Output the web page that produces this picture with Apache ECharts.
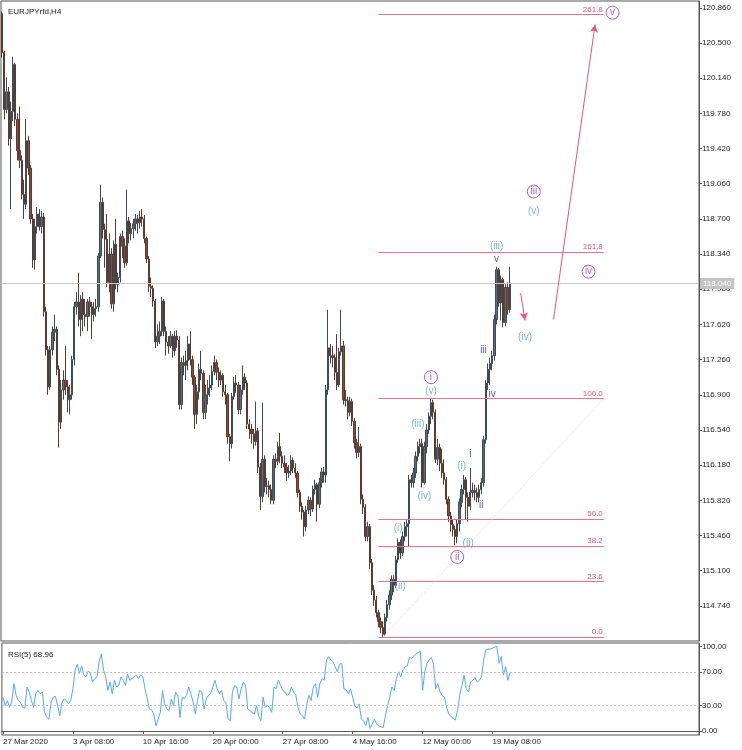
<!DOCTYPE html>
<html><head><meta charset="utf-8">
<script src="https://cdn.jsdelivr.net/npm/echarts@6/dist/echarts.min.js"></script>
<style>html,body{margin:0;padding:0;background:#fff}#c{width:742px;height:750px}</style>
</head><body><div id="c"></div>
<script>
const symbolName = 'EURJPYrfd,H4';
const opens = [
120.80,120.40,119.82,120.00,119.52,119.80,120.28,119.72,119.40,119.30,
118.95,118.85,119.50,119.22,118.70,118.28,118.62,118.75,118.62,118.72,
117.75,117.36,116.98,117.36,117.54,117.57,117.16,116.62,116.95,117.05,
116.98,116.85,116.90,117.26,117.80,117.85,117.67,117.88,117.72,117.70,
117.85,117.80,117.72,117.78,117.80,118.32,118.87,118.59,118.49,118.05,
118.34,117.83,118.44,118.03,118.10,118.52,118.42,118.25,118.68,118.55,
118.60,118.65,118.70,118.66,118.72,118.70,118.50,118.29,118.01,117.99,
117.86,117.44,117.50,117.55,117.86,117.55,117.44,117.40,117.50,117.35,
117.50,117.46,116.80,117.23,117.20,117.25,117.42,117.26,117.08,116.70,
116.93,117.16,117.12,116.72,116.90,116.97,117.00,117.14,117.23,117.13,
117.05,117.10,116.93,116.90,116.47,116.40,116.88,117.02,117.00,116.75,
116.95,117.08,117.02,116.60,116.55,116.50,116.42,116.53,116.16,115.86,
116.24,115.96,115.97,115.93,115.82,116.24,116.22,116.37,116.27,116.20,
116.16,116.10,116.12,116.23,116.15,116.10,115.90,115.76,115.70,115.55,
115.72,115.82,115.73,115.93,115.98,115.78,116.00,116.11,116.08,116.95,
117.38,117.30,117.28,117.13,117.00,117.34,117.40,116.85,116.84,116.72,
116.83,116.63,116.41,116.31,116.37,115.83,115.75,115.45,115.55,115.18,
114.90,114.80,114.67,114.58,114.52,114.45,114.62,114.75,114.85,115.01,
114.95,115.21,115.39,115.28,115.45,115.55,115.58,116.03,116.00,116.10,
116.27,116.37,116.40,116.00,116.37,116.54,116.68,116.82,116.72,116.24,
116.36,116.20,116.10,116.03,115.83,115.66,115.57,115.52,115.45,115.58,
115.80,115.93,116.03,115.85,115.76,115.90,115.92,115.90,115.85,115.93,
116.00,116.44,117.02,117.16,117.22,117.30,117.67,118.18,117.84,118.08,
117.64,118.00,117.77];
const closes = [
120.40,119.82,120.00,119.52,119.80,120.28,119.72,119.40,119.30,118.95,
118.85,119.50,119.22,118.70,118.28,118.62,118.75,118.62,118.72,117.75,
117.36,116.98,117.36,117.54,117.57,117.16,116.62,116.95,117.05,116.98,
116.85,116.90,117.26,117.80,117.85,117.67,117.88,117.72,117.70,117.85,
117.80,117.72,117.78,117.80,118.32,118.87,118.59,118.49,118.05,118.34,
117.83,118.44,118.03,118.10,118.52,118.42,118.25,118.68,118.55,118.60,
118.65,118.70,118.66,118.72,118.70,118.50,118.29,118.01,117.99,117.86,
117.44,117.50,117.55,117.86,117.55,117.44,117.40,117.50,117.35,117.50,
117.46,116.80,117.23,117.20,117.25,117.42,117.26,117.08,116.70,116.93,
117.16,117.12,116.72,116.90,116.97,117.00,117.14,117.23,117.13,117.05,
117.10,116.93,116.90,116.47,116.40,116.88,117.02,117.00,116.75,116.95,
117.08,117.02,116.60,116.55,116.50,116.42,116.53,116.16,115.86,116.24,
115.96,115.97,115.93,115.82,116.24,116.22,116.37,116.27,116.20,116.16,
116.10,116.12,116.23,116.15,116.10,115.90,115.76,115.70,115.55,115.72,
115.82,115.73,115.93,115.98,115.78,116.00,116.11,116.08,116.95,117.38,
117.30,117.28,117.13,117.00,117.34,117.40,116.85,116.84,116.72,116.83,
116.63,116.41,116.31,116.37,115.83,115.75,115.45,115.55,115.18,114.90,
114.80,114.67,114.58,114.52,114.45,114.62,114.75,114.85,115.01,114.95,
115.21,115.39,115.28,115.45,115.55,115.58,116.03,116.00,116.10,116.27,
116.37,116.40,116.00,116.37,116.54,116.68,116.82,116.72,116.24,116.36,
116.20,116.10,116.03,115.83,115.66,115.57,115.52,115.45,115.58,115.80,
115.93,116.03,115.85,115.76,115.90,115.92,115.90,115.85,115.93,116.00,
116.44,117.02,117.16,117.22,117.30,117.67,118.18,117.84,118.08,117.64,
118.00,117.77,118.04];
const lows = [
120.35,119.72,119.78,119.45,118.80,119.70,119.65,119.30,119.22,118.90,
118.70,118.80,119.15,118.65,118.20,118.18,118.55,118.58,118.55,117.70,
117.30,116.90,116.95,117.30,117.45,117.10,116.36,116.55,116.85,116.90,
116.72,116.70,116.85,117.20,117.72,117.60,117.50,117.55,117.60,117.55,
117.70,117.47,117.65,117.70,117.75,118.30,118.50,118.20,118.00,117.95,
117.78,117.75,117.98,117.95,118.05,118.30,118.20,118.22,118.45,118.48,
118.50,118.58,118.55,118.60,118.62,118.45,118.25,117.95,117.90,117.80,
117.38,117.40,117.42,117.50,117.50,117.30,117.32,117.38,117.28,117.30,
117.38,116.75,116.75,117.10,117.05,117.15,117.20,117.00,116.55,116.60,
116.85,117.05,116.65,116.65,116.80,116.88,116.95,117.10,117.05,116.98,
117.00,116.88,116.80,116.40,116.22,116.35,116.85,116.92,116.70,116.70,
116.90,116.95,116.55,116.45,116.40,116.35,116.38,116.10,115.72,115.80,
115.90,115.88,115.85,115.78,115.78,116.15,116.18,116.20,116.15,116.10,
116.02,116.05,116.08,116.10,116.05,115.85,115.70,115.62,115.45,115.50,
115.68,115.66,115.70,115.88,115.60,115.74,115.95,116.00,116.00,116.90,
117.22,117.18,117.05,116.95,116.98,117.30,116.80,116.78,116.65,116.68,
116.58,116.35,116.25,116.26,115.78,115.68,115.40,115.40,115.12,114.85,
114.74,114.62,114.52,114.46,114.42,114.43,114.58,114.70,114.80,114.88,
114.92,115.18,115.22,115.25,115.40,115.45,115.35,115.95,115.95,116.05,
116.22,116.30,115.95,115.98,116.30,116.50,116.60,116.65,116.20,116.18,
116.12,116.05,115.98,115.78,115.60,115.50,115.45,115.36,115.38,115.50,
115.75,115.88,115.62,115.60,115.72,115.85,115.82,115.80,115.80,115.88,
115.96,116.40,116.95,117.00,117.15,117.25,117.62,117.80,117.66,117.59,
117.60,117.72,117.74];
const highs = [
120.82,120.42,120.15,120.05,119.90,120.36,120.30,119.78,119.85,119.35,
119.10,119.72,119.55,119.25,118.75,118.70,118.82,118.80,118.78,118.76,
117.80,117.40,117.40,117.60,117.72,117.60,117.20,117.05,117.15,117.40,
117.05,117.00,117.30,117.85,117.95,118.15,117.92,117.95,117.88,117.88,
117.90,117.85,117.85,117.88,118.35,119.05,118.92,118.65,118.75,118.55,
118.40,118.48,118.70,118.15,118.55,118.58,118.50,119.00,118.72,118.66,
118.70,118.75,118.74,118.78,118.80,118.74,118.52,118.32,118.10,118.02,
117.88,117.62,117.65,117.90,117.88,117.60,117.50,117.55,117.52,117.55,
117.56,117.50,117.28,117.30,117.35,117.50,117.55,117.30,117.10,117.00,
117.22,117.35,117.15,117.00,117.05,117.10,117.20,117.30,117.26,117.18,
117.15,117.12,117.00,116.92,116.50,116.92,117.08,117.10,117.03,117.00,
117.20,117.12,117.05,116.65,116.60,116.55,116.83,116.56,116.20,116.82,
116.28,116.05,116.02,115.98,116.28,116.30,116.42,116.51,116.32,116.28,
116.20,116.18,116.28,116.26,116.20,116.12,115.93,115.80,115.72,115.76,
115.86,115.85,115.97,116.03,116.00,116.05,116.15,116.16,117.00,117.77,
117.42,117.40,117.32,117.52,117.38,117.77,117.45,116.95,116.88,116.88,
116.86,116.66,116.45,116.57,116.40,115.88,115.78,115.60,115.58,115.22,
114.95,114.84,114.70,114.62,114.58,114.66,114.80,114.90,115.05,115.05,
115.25,115.43,115.42,115.50,115.60,115.62,116.08,116.08,116.15,116.32,
116.42,116.45,116.45,116.42,116.60,116.72,116.86,116.85,116.75,116.45,
116.40,116.35,116.24,116.06,115.86,115.70,115.62,115.56,115.62,115.84,
115.98,116.08,116.06,115.90,116.15,116.00,115.98,115.95,115.98,116.05,
116.48,117.05,117.22,117.28,117.35,117.72,118.21,118.20,118.12,118.10,
118.04,118.05,118.21];
const rsi = [
40,30,36,28,34,56,42,36,34,28,
27,52,46,36,28,44,48,44,46,22,
16,14,34,40,41,30,18,34,38,36,
32,36,50,72,79,68,77,66,64,71,
68,58,62,64,82,91,72,64,48,58,
44,60,52,54,64,60,54,67,60,62,
64,66,62,66,64,50,38,26,25,20,
6,14,22,48,32,26,24,38,30,46,
42,16,40,38,42,52,44,34,20,36,
48,46,26,38,42,44,52,60,50,44,
48,36,34,14,12,46,54,52,38,50,
58,54,26,24,22,20,30,18,12,40,
28,30,28,22,52,50,60,54,48,46,
42,44,52,46,42,28,20,18,14,32,
42,36,52,56,40,56,62,60,84,88,
84,82,76,70,79,80,50,49,44,50,
40,30,27,32,14,12,6,16,3,8,
14,8,6,5,4,18,30,40,52,48,
62,70,64,72,76,77,87,86,88,91,
93,94,48,70,80,84,87,79,50,56,
46,42,40,28,20,17,15,13,24,42,
54,66,50,46,58,60,63,58,60,64,
85,96,97,97,98,99,100,80,88,66,
76,60,68.96];
const timeLabels = ['27 Mar 2020','3 Apr 08:00','10 Apr 16:00','20 Apr 00:00','27 Apr 08:00','4 May 16:00','12 May 00:00','19 May 08:00'];
const barsPerLabel = 32;
const slotCount = 319;
const priceMin = 114.38, priceMax = 120.93, priceStep = 0.36;
const rsiLevels = [30, 70];
const rsiTicks = [0, 30, 70, 100];
const fibLevels = [114.42, 114.99, 115.35, 115.63, 116.86, 118.36, 120.79];
const fibNames = ['0.0','23.6','38.2','50.0','100.0','161.8','261.8'];
const fibStart = 172, fibEnd = 275;
const trendLine = [[174, 114.42], [275, 116.86]];
const arrows = [[237, 117.94, 239, 117.66], [252, 117.67, 271, 120.69]];
const circledLabels = [[196, 117.08, 'i'], [208, 115.24, 'ii'], [243.2, 118.98, 'iii'], [268.4, 118.16, 'iv'], [279.4, 120.81, 'v']];
const parenLabels = [[196, 116.94, '(v)'], [190, 116.60, '(iii)'], [193, 115.86, '(iv)'], [181.1, 115.53, '(i)'], [182, 114.94, '(ii)'], [210.1, 116.17, '(i)'], [213.1, 115.38, '(ii)'], [238.6, 117.49, '(iv)'], [243.2, 118.78, '(v)'], [226.4, 118.42, '(iii)']];
const minorLabels = [[214.2, 116.29, 'i'], [218.8, 115.77, 'ii'], [220, 117.36, 'iii'], [224.3, 116.91, 'iv'], [226.1, 118.29, 'v']];

const FONT = 'Liberation Sans';
const slots = Array.from({length: slotCount}, (_, k) => k);
const candles = opens.map((o, k) => [o, closes[k], lows[k], highs[k]]);
const lastClose = closes[closes.length - 1];
const pink = '#e8738a';

const markData = [];
markData.push({yAxis: lastClose, lineStyle: {color: '#c8c8c8', width: 1, type: 'solid'},
  label: {show: true, position: 'end', distance: 1, formatter: lastClose.toFixed(3), backgroundColor: '#c3c3c3', color: '#fff', fontSize: 8, padding: [2, 3, 1, 3], fontFamily: FONT}});
fibLevels.forEach((lv, k) => {
  markData.push([{coord: [fibStart, lv], lineStyle: {color: pink, width: 1, type: 'solid'},
    label: {show: true, position: 'insideEndTop', distance: 1, formatter: fibNames[k], color: '#e05577', fontSize: 8, fontFamily: FONT}},
    {coord: [fibEnd, lv]}]);
});
markData.push([{coord: trendLine[0], lineStyle: {color: '#e2e2e2', width: 1, type: 'dotted'}, label: {show: false}},
  {coord: trendLine[1]}]);
arrows.forEach(a => {
  markData.push([{coord: [a[0], a[1]], lineStyle: {color: '#e8557a', width: 1, type: 'solid'}, label: {show: false}},
    {coord: [a[2], a[3]], symbol: 'arrow', symbolSize: [6, 8], itemStyle: {color: '#e0103c'}}]);
});

function labelSeries(data, color, size, circled) {
  return {
    type: 'scatter', xAxisIndex: 0, yAxisIndex: 0, z: 10,
    data: data.map(d => [d[0], d[1], d[2]]),
    symbol: 'circle', symbolSize: circled ? 13 : 1,
    itemStyle: circled ? {color: 'rgba(255,255,255,0)', borderColor: color, borderWidth: 1} : {color: 'rgba(255,255,255,0)'},
    label: {show: true, position: 'inside', formatter: p => p.value[2], color: color, fontSize: size, fontFamily: FONT},
    silent: true
  };
}

const chart = echarts.init(document.getElementById('c'));
chart.setOption({
  animation: false,
  backgroundColor: '#fff',
  textStyle: {fontFamily: FONT},
  title: [
    {text: symbolName, left: 3, top: 3, textStyle: {fontSize: 8, fontWeight: 'normal', color: '#222', fontFamily: FONT}},
    {text: 'RSI(5) ' + rsi[rsi.length - 1].toFixed(2), left: 3, top: 646, textStyle: {fontSize: 8, fontWeight: 'normal', color: '#222', fontFamily: FONT}}
  ],
  grid: [
    {left: 1, top: 1, width: 698, height: 640, show: true, borderColor: '#555', borderWidth: 1, backgroundColor: '#fff'},
    {left: 1, top: 643, width: 698, height: 92, show: true, borderColor: '#555', borderWidth: 1, backgroundColor: '#fff'}
  ],
  xAxis: [
    {type: 'category', gridIndex: 0, data: slots, boundaryGap: true,
      axisLine: {show: false}, axisTick: {show: false}, axisLabel: {show: false}, splitLine: {show: false}},
    {type: 'category', gridIndex: 1, data: slots, boundaryGap: true,
      axisLine: {show: true, lineStyle: {color: '#555'}},
      axisTick: {show: true, alignWithLabel: true, length: 3, lineStyle: {color: '#555'},
        interval: (idx) => idx % barsPerLabel === 0 && idx / barsPerLabel < timeLabels.length},
      axisLabel: {show: true, fontSize: 8, color: '#222', align: 'left', margin: 3,
        interval: (idx) => idx % barsPerLabel === 0 && idx / barsPerLabel < timeLabels.length,
        formatter: (v, idx) => timeLabels[Math.round(idx / barsPerLabel)] || ''},
      splitLine: {show: false}}
  ],
  yAxis: [
    {type: 'value', gridIndex: 0, position: 'right', min: priceMin, max: priceMax, interval: priceStep,
      axisLine: {show: true, lineStyle: {color: '#555'}},
      axisTick: {show: true, length: 3, lineStyle: {color: '#555'}},
      axisLabel: {fontSize: 8, color: '#222', margin: 3, formatter: v => v.toFixed(3), showMinLabel: false, showMaxLabel: false},
      splitLine: {show: false}},
    {type: 'value', gridIndex: 1, position: 'right', min: -4.8, max: 104.1,
      axisLine: {show: true, lineStyle: {color: '#555'}},
      axisTick: {show: true, length: 3, lineStyle: {color: '#555'}, customValues: rsiTicks},
      axisLabel: {fontSize: 8, color: '#222', margin: 3, formatter: v => Number(v).toFixed(2), customValues: rsiTicks},
      splitLine: {show: false}}
  ],
  series: [
    {type: 'candlestick', xAxisIndex: 0, yAxisIndex: 0, data: candles, barWidth: 1.8,
      itemStyle: {color: '#52707e', color0: '#8a4a33', borderColor: '#3b4c55', borderColor0: '#5e3a2e', borderWidth: 1},
      markLine: {silent: true, symbol: ['none', 'none'], symbolSize: [6, 8], animation: false, precision: 3,
        data: markData}},
    labelSeries(parenLabels, '#5b9bd5', 10, false),
    labelSeries(minorLabels, '#2b2bf0', 10, false),
    labelSeries(circledLabels, '#9b35c4', 10, true),
    {type: 'line', xAxisIndex: 1, yAxisIndex: 1, data: rsi, showSymbol: false, symbol: 'none',
      lineStyle: {color: '#55a8ff', width: 1},
      markLine: {silent: true, symbol: ['none', 'none'], label: {show: false},
        lineStyle: {color: '#bdbdbd', type: [2, 2], width: 1},
        data: rsiLevels.map(v => ({yAxis: v}))}}
  ]
});
</script></body></html>
